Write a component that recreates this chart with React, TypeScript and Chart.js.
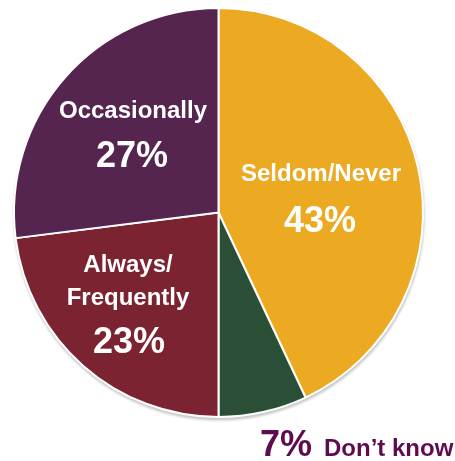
import React, { useEffect, useRef } from "react";
import { Chart, registerables } from "chart.js";

Chart.register(...registerables);

const categories = ["Seldom/Never", "Don\u2019t know", "Always/ Frequently", "Occasionally"];
const values = [43, 7, 23, 27];
const sliceColors = ["#EBAA22", "#2B4E36", "#7B2331", "#55244F"];
const labelColor = "#5E0B52";

// text lines per slice: [text, fontSize, dx, dy, align]
const sliceLabels: [string, number, number, number, CanvasTextAlign, string][][] = [
  [
    ["Seldom/Never", 24, 102.5, -31.5, "center", "#ffffff"],
    [values[0] + "%", 36, 101.5, 19.5, "center", "#ffffff"],
  ],
  [
    [values[1] + "%", 36, 41.5, 243.5, "left", labelColor],
    ["Don\u2019t know", 24, 105.5, 243.5, "left", labelColor],
  ],
  [
    ["Always/", 24, -90.5, 59.5, "center", "#ffffff"],
    ["Frequently", 24, -90.5, 92.5, "center", "#ffffff"],
    [values[2] + "%", 36, -89.5, 140.5, "center", "#ffffff"],
  ],
  [
    ["Occasionally", 24, -85.5, -94.5, "center", "#ffffff"],
    [values[3] + "%", 36, -86.5, -45.5, "center", "#ffffff"],
  ],
];

const labelPlugin = {
  id: "sliceLabels",
  beforeDatasetsDraw(chart: any) {
    const meta = chart.getDatasetMeta(0);
    const arc = meta.data[0];
    if (!arc) return;
    const { x, y, outerRadius } = arc.getProps(["x", "y", "outerRadius"], true);
    const ctx = chart.ctx;
    ctx.save();
    ctx.beginPath();
    ctx.arc(x + 0.5, y + 2.5, outerRadius + 1, 0, Math.PI * 2);
    ctx.fillStyle = "#c9c9c9";
    ctx.filter = "blur(1px)";
    ctx.fill();
    ctx.restore();
  },
  afterDatasetsDraw(chart: any) {
    const meta = chart.getDatasetMeta(0);
    const ctx = chart.ctx;
    ctx.save();
    ctx.textBaseline = "alphabetic";
    meta.data.forEach((arc: any, i: number) => {
      const { x, y } = arc.getProps(["x", "y"], true);
      sliceLabels[i].forEach(([text, size, dx, dy, align, color]) => {
        ctx.font = `bold ${size}px "Liberation Sans", Arial, sans-serif`;
        ctx.fillStyle = color;
        ctx.textAlign = align;
        ctx.fillText(text, x + dx, y + dy);
      });
    });
    ctx.restore();
  },
};

export default function App() {
  const ref = useRef<HTMLCanvasElement>(null);
  useEffect(() => {
    if (!ref.current) return;
    const chart = new Chart(ref.current, {
      type: "pie",
      data: {
        labels: categories,
        datasets: [
          {
            data: values,
            backgroundColor: sliceColors,
            borderColor: "#ffffff",
            borderWidth: 2,
          },
        ],
      },
      options: {
        responsive: false,
        animation: false,
        layout: { padding: { left: 13, right: 31, top: 7, bottom: 43 } },
        plugins: {
          legend: { display: false },
          tooltip: { enabled: false },
          title: { display: false },
        },
      },
      plugins: [labelPlugin],
    });
    return () => chart.destroy();
  }, []);
  return (
    <div style={{ position: "fixed", left: 0, top: 0, width: 455, height: 461, background: "#ffffff" }}>
      <canvas ref={ref} width={455} height={461} style={{ display: "block", width: 455, height: 461 }} />
    </div>
  );
}
